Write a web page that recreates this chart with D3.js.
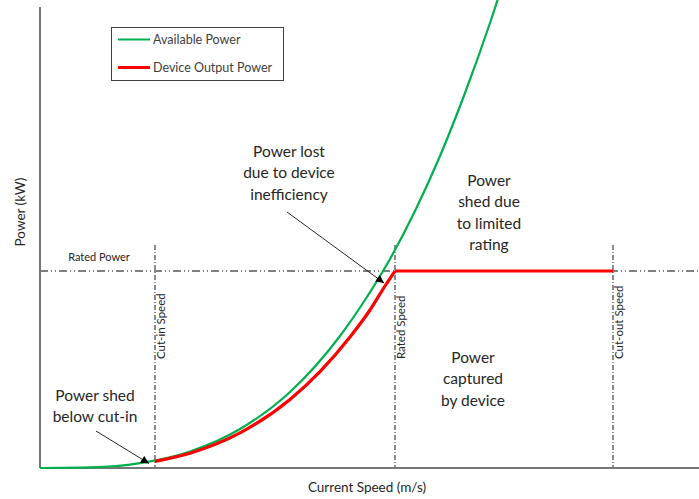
<!DOCTYPE html>
<html>
<head>
<meta charset="utf-8">
<script src="https://cdn.jsdelivr.net/npm/d3@7"></script>
<style>
  body { margin: 0; background: #fff; }
  text { font-family: Lato, "Open Sans", sans-serif; fill: #262626; }
</style>
</head>
<body>
<script>
// values (speed and power in plot units)
var availSpeed = [0, 0.5, 1.0, 1.5, 2.0, 2.5, 3.0, 3.25, 3.5, 3.75, 4.0, 4.25, 4.5, 4.75];
var availPower = [0, 0.006, 0.049, 0.165, 0.39, 0.76, 1.32, 1.68, 2.09, 2.57, 3.12, 3.75, 4.45, 5.23];

var outputSpeed = [1.15, 1.5, 2.0, 2.5, 2.8, 3.1, 3.3, 3.45, 3.55, 5.73];
var outputPower = [0.066, 0.148, 0.351, 0.686, 0.964, 1.31, 1.58, 1.82, 1.97, 1.97];

var markerNames = ["Cut-in Speed", "Rated Speed", "Cut-out Speed"];
var markerSpeeds = [1.15, 3.55, 5.73];
var ratedPower = 1.97;
var markerTop = 2.23;

var legendNames = ["Available Power", "Device Output Power"];
var legendColors = ["#00b050", "#ff0000"];

var w = 699;
var h = 499;

var x = d3.scaleLinear().domain([0, 6.59]).range([40, 699]);
var y = d3.scaleLinear().domain([0, 4.61]).range([468, 7]);

var svg = d3.select("body").append("svg").attr("width", w).attr("height", h);

svg.append("defs").append("marker")
    .attr("id", "arrow")
    .attr("viewBox", "0 0 10 10")
    .attr("refX", 10).attr("refY", 5)
    .attr("markerWidth", 9).attr("markerHeight", 8)
    .attr("markerUnits", "userSpaceOnUse")
    .attr("orient", "auto")
    .append("path")
    .attr("d", "M0,0L10,5L0,10Z")
    .style("fill", "#000");

// rated power line
svg.append("line")
    .attr("x1", x(0)).attr("x2", x(6.59))
    .attr("y1", y(ratedPower)).attr("y2", y(ratedPower))
    .style("stroke", "#000")
    .style("stroke-width", 1)
    .style("stroke-dasharray", "8,3,1,3,1,3");

// speed markers
svg.selectAll(".marker")
    .data(markerSpeeds)
    .enter()
    .append("line")
    .attr("class", "marker")
    .attr("x1", function(d) { return x(d); })
    .attr("x2", function(d) { return x(d); })
    .attr("y1", y(markerTop))
    .attr("y2", y(0))
    .style("stroke", "#404040")
    .style("stroke-width", 1.2)
    .style("stroke-dasharray", "5,2,1,2");

svg.selectAll(".markerLabel")
    .data(markerSpeeds)
    .enter()
    .append("text")
    .attr("class", "markerLabel")
    .attr("transform", function(d) { return "translate(" + (x(d) + 10) + "," + y(1.09) + ") rotate(-90)"; })
    .style("font-size", "11.5px")
    .text(function(d, i) { return markerNames[i]; });

svg.append("text")
    .attr("x", x(0.59)).attr("y", y(ratedPower) - 10)
    .attr("text-anchor", "middle")
    .style("font-size", "11px")
    .text("Rated Power");

// axes
svg.append("line")
    .attr("x1", x(0)).attr("x2", x(0))
    .attr("y1", y(4.61)).attr("y2", y(0))
    .style("stroke", "#767676").style("stroke-width", 2);
svg.append("line")
    .attr("x1", x(0)).attr("x2", x(6.59))
    .attr("y1", y(0)).attr("y2", y(0))
    .style("stroke", "#767676").style("stroke-width", 2);

// curves
var availLine = d3.line()
    .x(function(d, i) { return x(availSpeed[i]); })
    .y(function(d) { return y(d); })
    .curve(d3.curveMonotoneX);

svg.append("path")
    .attr("d", availLine(availPower))
    .style("fill", "none")
    .style("stroke", legendColors[0])
    .style("stroke-width", 2.2);

var rising = outputSpeed.map(function(s, i) { return [s, outputPower[i]]; })
    .filter(function(d) { return d[0] <= markerSpeeds[1]; });
var flat = outputSpeed.map(function(s, i) { return [s, outputPower[i]]; })
    .filter(function(d) { return d[0] >= markerSpeeds[1]; });

var outLine = d3.line()
    .x(function(d) { return x(d[0]); })
    .y(function(d) { return y(d[1]); });

svg.append("path")
    .attr("d", outLine.curve(d3.curveMonotoneX)(rising))
    .style("fill", "none")
    .style("stroke", legendColors[1])
    .style("stroke-width", 3.2);
svg.append("path")
    .attr("d", outLine.curve(d3.curveLinear)(flat))
    .style("fill", "none")
    .style("stroke", legendColors[1])
    .style("stroke-width", 3.2);

// annotations
var notes = [
    { lines: ["Power lost", "due to device", "inefficiency"], cx: 2.49, top: 3.11 },
    { lines: ["Power shed", "below cut-in"], cx: 0.55, top: 0.67 },
    { lines: ["Power", "shed due", "to limited", "rating"], cx: 4.49, top: 2.82 },
    { lines: ["Power", "captured", "by device"], cx: 4.33, top: 1.05 }
];

notes.forEach(function(n) {
    var t = svg.append("text")
        .attr("text-anchor", "middle")
        .style("font-size", "15.5px");
    n.lines.forEach(function(l, i) {
        t.append("tspan")
            .attr("x", x(n.cx))
            .attr("y", y(n.top) + i * 21.3)
            .text(l);
    });
});

var arrows = [
    [[2.47, 2.56], [3.44, 1.85]],
    [[0.56, 0.37], [1.09, 0.045]]
];

svg.selectAll(".arrow")
    .data(arrows)
    .enter()
    .append("line")
    .attr("class", "arrow")
    .attr("x1", function(d) { return x(d[0][0]); })
    .attr("y1", function(d) { return y(d[0][1]); })
    .attr("x2", function(d) { return x(d[1][0]); })
    .attr("y2", function(d) { return y(d[1][1]); })
    .style("stroke", "#262626")
    .style("stroke-width", 1)
    .attr("marker-end", "url(#arrow)");

// axis titles
svg.append("text")
    .attr("x", 367).attr("y", 492)
    .attr("text-anchor", "middle")
    .style("font-size", "13.5px")
    .text("Current Speed (m/s)");

svg.append("text")
    .attr("transform", "translate(25,212) rotate(-90)")
    .attr("text-anchor", "middle")
    .style("font-size", "13.5px")
    .text("Power (kW)");

// legend
var legend = svg.append("g").attr("transform", "translate(111,27)");
legend.append("rect")
    .attr("x", 0.5).attr("y", 0.5)
    .attr("width", 172).attr("height", 53)
    .style("fill", "#fff")
    .style("stroke", "#404040")
    .style("stroke-width", 1);

legend.selectAll(".item")
    .data(legendNames)
    .enter()
    .append("line")
    .attr("x1", 7).attr("x2", 39)
    .attr("y1", function(d, i) { return 12.5 + i * 28; })
    .attr("y2", function(d, i) { return 12.5 + i * 28; })
    .style("stroke", function(d, i) { return legendColors[i]; })
    .style("stroke-width", function(d, i) { return i ? 3 : 2; });

legend.selectAll(".legendText")
    .data(legendNames)
    .enter()
    .append("text")
    .attr("x", 42)
    .attr("y", function(d, i) { return 17 + i * 28; })
    .style("font-size", "12.5px")
    .style("fill", "#404040")
    .text(function(d) { return d; });
</script>
</body>
</html>
